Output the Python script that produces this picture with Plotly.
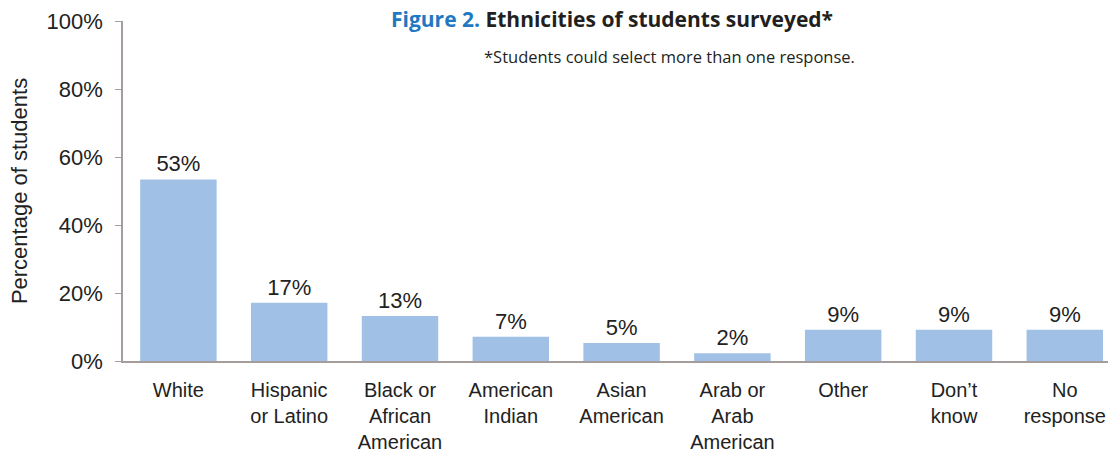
import plotly.graph_objects as go

categories = ["White", "Hispanic<br>or Latino", "Black or<br>African<br>American", "American<br>Indian",
              "Asian<br>American", "Arab or<br>Arab<br>American", "Other", "Don’t<br>know", "No<br>response"]
values = [53.4, 17.1, 13.2, 7.1, 5.3, 2.3, 9.2, 9.2, 9.2]
labels = ["53%", "17%", "13%", "7%", "5%", "2%", "9%", "9%", "9%"]
y_ticks = [0, 20, 40, 60, 80, 100]
y_tick_labels = ["0%", "20%", "40%", "60%", "80%", "100%"]

font = "Liberation Sans, Arial, sans-serif"

fig = go.Figure(go.Bar(
    x=list(range(len(categories))), y=values, text=labels, textposition="outside",
    textfont=dict(size=22, color="#222222", family=font), cliponaxis=False,
    marker=dict(color="#a0c1e5", line=dict(width=0)), width=0.69,
))

fig.update_layout(
    width=1108, height=453, plot_bgcolor="white", paper_bgcolor="white",
    margin=dict(l=123, r=0, t=21, b=92, autoexpand=False), showlegend=False,
    font=dict(family=font, color="#222222"),
)
fig.update_xaxes(
    tickmode="array", tickvals=list(range(len(categories))), ticktext=categories,
    range=[-0.5, 8.39], showline=True, linecolor="#a59d9b", linewidth=1.5,
    ticks="", tickfont=dict(size=20, color="#222222"), showgrid=False,
    ticklabelstandoff=10,
)
fig.update_yaxes(
    range=[0, 100], tickvals=y_ticks, ticktext=y_tick_labels, showline=True,
    linecolor="#a59d9b", linewidth=1.5, ticks="outside", ticklen=6, tickcolor="#a59d9b",
    tickfont=dict(size=22, color="#222222"), showgrid=False, zeroline=False,
    ticklabelstandoff=8,
    title=dict(text="Percentage of students", font=dict(size=22, color="#222222"), standoff=13),
)
fig.add_annotation(
    x=(612 - 123) / 985, y=1 - (19 - 21) / 340, xref="paper", yref="paper", showarrow=False,
    xanchor="center", yanchor="middle",
    text="<span style='color:#1f78c1'><b>Figure 2.</b></span> <b>Ethnicities of students surveyed*</b>",
    font=dict(size=21, family="Open Sans, sans-serif", color="#231f20"),
)
fig.add_annotation(
    x=(669 - 123) / 985, y=1 - (57 - 21) / 340, xref="paper", yref="paper", showarrow=False,
    xanchor="center", yanchor="middle",
    text="*Students could select more than one response.",
    font=dict(size=16.5, family="Open Sans, sans-serif", color="#231f20"),
)
fig.write_html("out.html", config={"displayModeBar": False},
               post_script="document.body.style.margin='0';")
